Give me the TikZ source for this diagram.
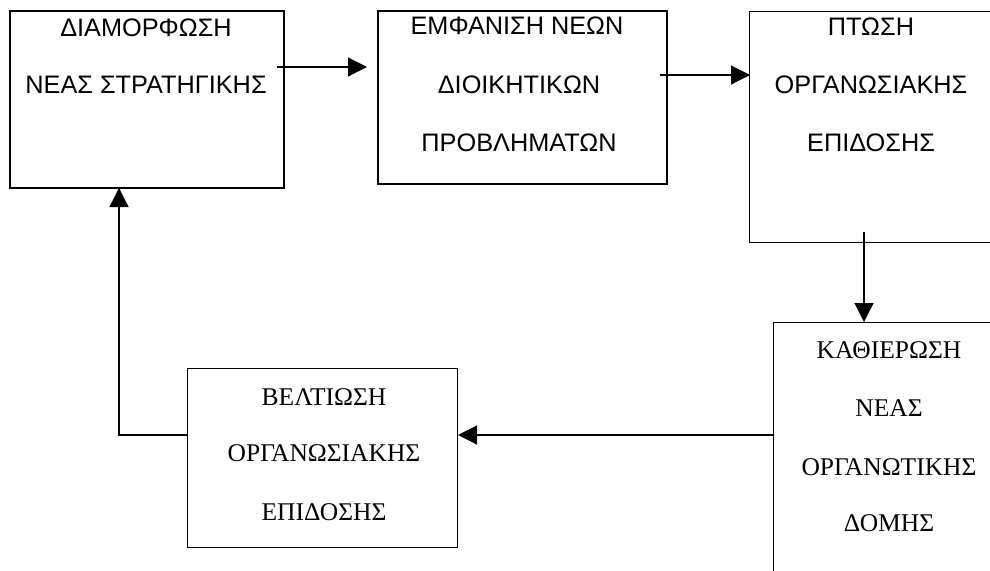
\documentclass[tikz,border=0pt]{standalone}
\usepackage{fontspec}
\setmainfont{Liberation Serif}
\newfontfamily\arialf{Liberation Sans}
\usetikzlibrary{arrows.meta}
\tikzset{
  boxthick/.style={draw, line width=1.7pt, inner sep=0pt, anchor=north west},
  boxthin/.style={draw, line width=1.3pt, inner sep=0pt, anchor=north west},
  sanslbl/.style={inner sep=0pt, font=\arialf\fontsize{25.3}{25.3}\selectfont},
  seriflbl/.style={inner sep=0pt, font=\fontsize{25.5}{25.5}\selectfont},
  conn/.style={line width=1.2pt, -{Triangle[length=19pt,width=19pt]}}
}
\begin{document}
\begin{tikzpicture}[x=1pt,y=-1pt]
\clip (0,0) rectangle (990,570);
\fill[white] (0,0) rectangle (990,570);
% boxes
\node[boxthick, minimum width=274pt, minimum height=177pt] (A) at (9,10) {};
\node[boxthick, minimum width=289pt, minimum height=173pt] (B) at (377,10) {};
\node[boxthin, minimum width=250pt, minimum height=231pt] (C) at (749,11) {};
\node[boxthin, minimum width=240pt, minimum height=280pt] (D) at (773,322) {};
\node[boxthin, minimum width=270pt, minimum height=179pt] (E) at (187,368) {};
% labels
\node[sanslbl] (a1) at (146,28) {ΔΙΑΜΟΡΦΩΣΗ};
\node[sanslbl] (a2) at (146,85) {ΝΕΑΣ ΣΤΡΑΤΗΓΙΚΗΣ};
\node[sanslbl] (b1) at (517,26) {ΕΜΦΑΝΙΣΗ ΝΕΩΝ};
\node[sanslbl] (b2) at (519,85) {ΔΙΟΙΚΗΤΙΚΩΝ};
\node[sanslbl] (b3) at (519,143) {ΠΡΟΒΛΗΜΑΤΩΝ};
\node[sanslbl] (c1) at (871,27) {ΠΤΩΣΗ};
\node[sanslbl] (c2) at (871,85) {ΟΡΓΑΝΩΣΙΑΚΗΣ};
\node[sanslbl] (c3) at (871,143) {ΕΠΙΔΟΣΗΣ};
\node[seriflbl] (d1) at (889,350) {ΚΑΘΙΕΡΩΣΗ};
\node[seriflbl] (d2) at (889,408) {ΝΕΑΣ};
\node[seriflbl] (d3) at (889,467) {ΟΡΓΑΝΩΤΙΚΗΣ};
\node[seriflbl] (d4) at (889,523) {ΔΟΜΗΣ};
\node[seriflbl] (e1) at (324,397) {ΒΕΛΤΙΩΣΗ};
\node[seriflbl] (e2) at (324,453) {ΟΡΓΑΝΩΣΙΑΚΗΣ};
\node[seriflbl] (e3) at (324,512) {ΕΠΙΔΟΣΗΣ};
% connector end points
\coordinate (ab1) at (277,67);
\coordinate (ab2) at (367,67);
\coordinate (bc1) at (660,75);
\coordinate (bc2) at (750,75);
\coordinate (cd1) at (864,232);
\coordinate (cd2) at (864,322);
\coordinate (de1) at (773,435);
\coordinate (de2) at (458,435);
\coordinate (ea1) at (187,435);
\coordinate (ea2) at (119,435);
\coordinate (ea3) at (119,188);
% connectors
\draw[conn] (ab1) -- (ab2);
\draw[conn] (bc1) -- (bc2);
\draw[conn] (cd1) -- (cd2);
\draw[conn] (de1) -- (de2);
\draw[conn] (ea1) -- (ea2) -- (ea3);
\end{tikzpicture}
\end{document}
